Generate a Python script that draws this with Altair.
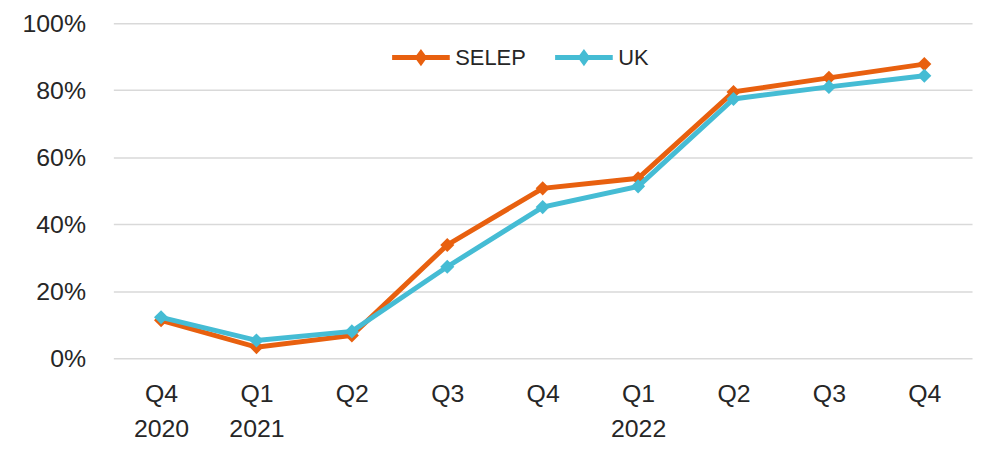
import json
import altair as alt
import pandas as pd

quarters = ["Q4 2020", "Q1 2021", "Q2 2021", "Q3 2021", "Q4 2021",
            "Q1 2022", "Q2 2022", "Q3 2022", "Q4 2022"]
tick_labels = [["Q4", "2020"], ["Q1", "2021"], ["Q2"], ["Q3"], ["Q4"],
               ["Q1", "2022"], ["Q2"], ["Q3"], ["Q4"]]
selep = [0.113, 0.033, 0.068, 0.338, 0.507, 0.537, 0.795, 0.837, 0.878]
uk = [0.122, 0.053, 0.080, 0.273, 0.451, 0.513, 0.774, 0.810, 0.843]
series = ["SELEP", "UK"]
colors = ["#E8600F", "#45BCD4"]

rows = []
for q, v in zip(quarters, selep):
    rows.append({"quarter": q, "series": "SELEP", "value": v})
for q, v in zip(quarters, uk):
    rows.append({"quarter": q, "series": "UK", "value": v})
df = pd.DataFrame(rows)

label_expr = "{}[indexof({}, datum.value)]".format(
    json.dumps(tick_labels), json.dumps(quarters))

FONT = "Liberation Sans"

x = alt.X("quarter:N", sort=quarters, title=None,
          scale=alt.Scale(paddingInner=0, paddingOuter=0.5),
          axis=alt.Axis(labelExpr=label_expr, labelAngle=0, domain=False,
                        ticks=False, grid=False, labelPadding=24,
                        labelFontSize=25, labelLineHeight=35,
                        labelFont=FONT, labelColor="#262626"))
y = alt.Y("value:Q", title=None,
          scale=alt.Scale(domain=[0, 1], nice=False),
          axis=alt.Axis(values=[0, 0.2, 0.4, 0.6, 0.8, 1.0], format=".0%",
                        domain=False, ticks=False, labelPadding=28,
                        labelFontSize=25, labelFont=FONT,
                        labelColor="#262626", gridColor="#D9D9D9",
                        gridWidth=1.5))
color = alt.Color(
    "series:N", title=None,
    scale=alt.Scale(domain=series, range=colors),
    legend=alt.Legend(orient="none", direction="horizontal",
                      legendX=278, legendY=3, padding=0,
                      symbolType="M-1,0L1,0M0,-0.15L0.11,0L0,0.15L-0.11,0Z",
                      symbolSize=3364, symbolStrokeWidth=5,
                      labelOffset=3, columnPadding=19,
                      labelFontSize=22, labelFont=FONT,
                      labelColor="#262626"))

layers = []
for s in series:
    base = alt.Chart(df).transform_filter(alt.datum.series == s)
    layers.append(base.mark_line(strokeWidth=5).encode(x=x, y=y, color=color))
    layers.append(base.mark_point(shape="diamond", filled=True, size=200,
                                  opacity=1).encode(x=x, y=y, color=color))

chart = alt.layer(*layers).properties(
    width=864, height=337,
    autosize=alt.AutoSizeParams(type="none"),
    padding={"left": 106, "top": 14, "right": 5, "bottom": 82},
).configure_view(stroke=None).configure_legend(
    symbolFillColor="transparent"
)

chart.save("out.html", embed_options={"renderer": "svg", "actions": False})
